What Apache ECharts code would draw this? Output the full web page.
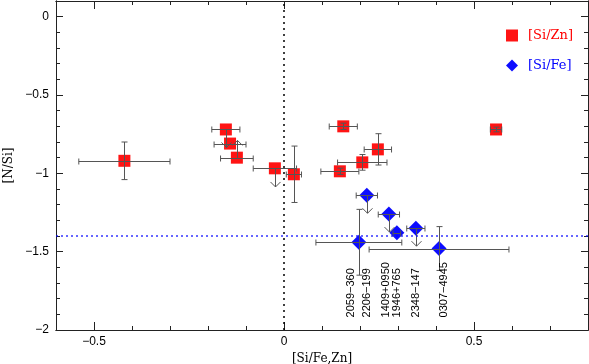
<!DOCTYPE html>
<html>
<head>
<meta charset="utf-8">
<script src="https://cdn.jsdelivr.net/npm/echarts@6/dist/echarts.min.js"></script>
<style>
html,body{margin:0;padding:0;background:#fff}
#main{width:589px;height:364px}
</style>
</head>
<body>
<div id="main"></div>
<script>
// [Si/Zn] points (red squares)
var znX   = [-0.42, -0.153, -0.142, -0.124, -0.024, 0.026, 0.156, 0.247, 0.206, 0.147, 0.558];
var znY   = [-0.92, -0.72, -0.81, -0.90, -0.968, -1.006, -0.70, -0.847, -0.93, -0.987, -0.72];
var znXErr = [0.12, 0.037, 0.042, 0.043, 0.057, 0.02, 0.037, 0.036, 0.065, 0.05, 0.015];
var znYErr = [0.12, 0, 0, 0, 0, 0.18, 0.02, 0.10, 0.05, 0.02, 0.015];

// [Si/Fe] points (blue diamonds)
var feX   = [0.218, 0.276, 0.297, 0.347, 0.197, 0.408];
var feY   = [-1.14, -1.26, -1.38, -1.35, -1.44, -1.48];
var feXErr = [0.028, 0.028, 0.01, 0.024, 0.113, 0.184];
var feYErr = [0, 0, 0, 0, 0.21, 0.14];

// limits (arrows): start point and arrow tip
var limX   = [-0.153, -0.124, -0.024, 0.218, 0.276, 0.347];
var limY   = [-0.72, -0.90, -0.968, -1.14, -1.26, -1.35];
var limEnd = [-0.835, -0.79, -1.087, -1.255, -1.375, -1.465];

// object names
var names = ['2059\u2212360', '2206\u2212199', '1409+0950', '1946+765', '2348\u2212147', '0307\u22124945'];
var nameX = [0.176, 0.218, 0.268, 0.297, 0.347, 0.421];
var nameY = -1.92;

var xMajor = [-0.5, 0, 0.5];
var xMinor = [-0.6, -0.5, -0.4, -0.3, -0.2, -0.1, 0, 0.1, 0.2, 0.3, 0.4, 0.5, 0.6, 0.7, 0.8];
var yMajor = [-2, -1.5, -1, -0.5, 0];
var yMinor = [-2, -1.9, -1.8, -1.7, -1.6, -1.5, -1.4, -1.3, -1.2, -1.1, -1, -0.9, -0.8, -0.7, -0.6, -0.5, -0.4, -0.3, -0.2, -0.1, 0, 0.1];

var zinc = 0;
var ironLine = -1.4;

function fmt(v) {
    if (v === 0) return '0';
    return (v < 0 ? '\u2212' : '') + Math.abs(v);
}

function pairs(a, b) {
    var out = [];
    for (var i = 0; i < a.length; i++) out.push([a[i], b[i]]);
    return out;
}

function errData(x, y, xe, ye) {
    var out = [];
    for (var i = 0; i < x.length; i++) out.push([x[i], y[i], xe[i], ye[i]]);
    return out;
}

var barStyle = {stroke: '#555', lineWidth: 1};

function renderError(params, api) {
    var x = api.value(0), y = api.value(1), dx = api.value(2), dy = api.value(3);
    var kids = [];
    var cap = 3;
    if (dx > 0) {
        var a = api.coord([x - dx, y]), b = api.coord([x + dx, y]);
        var yy = Math.round(a[1]) + 0.5;
        kids.push({type: 'line', shape: {x1: a[0], y1: yy, x2: b[0], y2: yy}, style: barStyle});
        kids.push({type: 'line', shape: {x1: a[0], y1: yy - cap, x2: a[0], y2: yy + cap}, style: barStyle});
        kids.push({type: 'line', shape: {x1: b[0], y1: yy - cap, x2: b[0], y2: yy + cap}, style: barStyle});
    }
    if (dy > 0) {
        var c = api.coord([x, y + dy]), d = api.coord([x, y - dy]);
        var xx = Math.round(c[0]) + 0.5;
        kids.push({type: 'line', shape: {x1: xx, y1: c[1], x2: xx, y2: d[1]}, style: barStyle});
        kids.push({type: 'line', shape: {x1: xx - cap, y1: c[1], x2: xx + cap, y2: c[1]}, style: barStyle});
        kids.push({type: 'line', shape: {x1: xx - cap, y1: d[1], x2: xx + cap, y2: d[1]}, style: barStyle});
    }
    return {type: 'group', children: kids};
}

function renderArrow(params, api) {
    var s = api.coord([api.value(0), api.value(1)]);
    var t = api.coord([api.value(0), api.value(2)]);
    var xx = Math.round(s[0]) + 0.5;
    var dir = t[1] > s[1] ? -1 : 1;
    return {type: 'group', children: [
        {type: 'line', shape: {x1: xx, y1: s[1], x2: xx, y2: t[1]}, style: barStyle},
        {type: 'polyline', shape: {points: [[xx - 5, t[1] + dir * 5], [xx, t[1]], [xx + 5, t[1] + dir * 5]]}, style: {stroke: '#555', lineWidth: 1, fill: null}}
    ]};
}

function renderName(params, api) {
    var p = api.coord([api.value(0), api.value(1)]);
    return {
        type: 'text', x: p[0], y: p[1], rotation: Math.PI / 2,
        style: {text: names[params.dataIndex], textAlign: 'left', textVerticalAlign: 'middle',
            font: '11px "Liberation Sans", Arial, sans-serif', fill: '#000'}
    };
}

var myChart = echarts.init(document.getElementById('main'));

var axisLineStyle = {color: '#222', width: 1};
var tickStyle = {color: '#222', width: 1};

function xAxisDef(pos, major, withLabel) {
    return {
        type: 'value', min: -0.6, max: 0.8, position: pos, gridIndex: 0,
        axisLine: {show: true, onZero: false, lineStyle: axisLineStyle},
        axisTick: {show: true, inside: true, length: major ? 8 : 4, customValues: major ? xMajor : xMinor, lineStyle: tickStyle},
        axisLabel: {show: withLabel, customValues: xMajor, formatter: fmt, color: '#000', fontSize: 12,
            fontFamily: '"Liberation Sans", Arial, sans-serif', margin: 6},
        splitLine: {show: false},
        name: withLabel ? '[Si/Fe,Zn]' : '', nameLocation: 'middle', nameGap: 19,
        nameTextStyle: {fontFamily: '"DejaVu Serif", serif', fontSize: 12, color: '#000'}
    };
}

function yAxisDef(pos, major, withLabel) {
    return {
        type: 'value', min: -2, max: 0.1, position: pos, gridIndex: 0,
        axisLine: {show: true, onZero: false, lineStyle: axisLineStyle},
        axisTick: {show: true, inside: true, length: major ? 7 : 4, customValues: major ? yMajor : yMinor, lineStyle: tickStyle},
        axisLabel: {show: withLabel, customValues: yMajor, formatter: fmt, color: '#000', fontSize: 12,
            fontFamily: '"Liberation Sans", Arial, sans-serif', margin: 7},
        splitLine: {show: false},
        name: withLabel ? '[N/Si]' : '', nameLocation: 'middle', nameGap: 37,
        nameTextStyle: {fontFamily: '"DejaVu Serif", serif', fontSize: 12, color: '#000'}
    };
}

var option = {
    animation: false,
    backgroundColor: '#fff',
    grid: {left: 56, right: 1, top: 1, bottom: 34, outerBoundsMode: 'none', containLabel: false},
    legend: {
        orient: 'vertical', right: 11, top: 24, itemGap: 17, itemWidth: 12, itemHeight: 12,
        textStyle: {fontFamily: '"DejaVu Serif", serif', fontSize: 13, padding: [0, 0, 0, 5]},
        data: [
            {name: '[Si/Zn]', icon: 'rect', textStyle: {color: '#ff0000'}},
            {name: '[Si/Fe]', icon: 'diamond', textStyle: {color: '#0000ff'}}
        ]
    },
    xAxis: [xAxisDef('bottom', true, true), xAxisDef('bottom', false, false), xAxisDef('top', true, false), xAxisDef('top', false, false)],
    yAxis: [yAxisDef('left', true, true), yAxisDef('left', false, false), yAxisDef('right', true, false), yAxisDef('right', false, false)],
    series: [
        {
            name: '[Si/Zn]', type: 'scatter', symbol: 'rect', symbolSize: 12,
            itemStyle: {color: '#ff0000', opacity: 0.92},
            data: pairs(znX, znY), z: 2,
            markLine: {
                silent: true, symbol: 'none', label: {show: false},
                lineStyle: {color: '#000', type: [2, 4], width: 1.5},
                data: [{xAxis: zinc}]
            }
        },
        {
            name: '[Si/Fe]', type: 'scatter', symbol: 'diamond', symbolSize: 15,
            itemStyle: {color: '#0000ff', opacity: 0.95},
            data: pairs(feX, feY), z: 2,
            markLine: {
                silent: true, symbol: 'none', label: {show: false},
                lineStyle: {color: '#0000ff', type: [2, 3], width: 1.5, opacity: 0.8},
                data: [{yAxis: ironLine}]
            }
        },
        {type: 'custom', renderItem: renderError, data: errData(znX, znY, znXErr, znYErr), z: 4, silent: true},
        {type: 'custom', renderItem: renderError, data: errData(feX, feY, feXErr, feYErr), z: 4, silent: true},
        {type: 'custom', renderItem: renderArrow, data: errData(limX, limY, limEnd, limEnd).map(function (d) { return [d[0], d[1], d[2]]; }), z: 4, silent: true},
        {type: 'custom', renderItem: renderName, data: nameX.map(function (v) { return [v, nameY]; }), z: 5, silent: true}
    ]
};

myChart.setOption(option);
</script>
</body>
</html>
